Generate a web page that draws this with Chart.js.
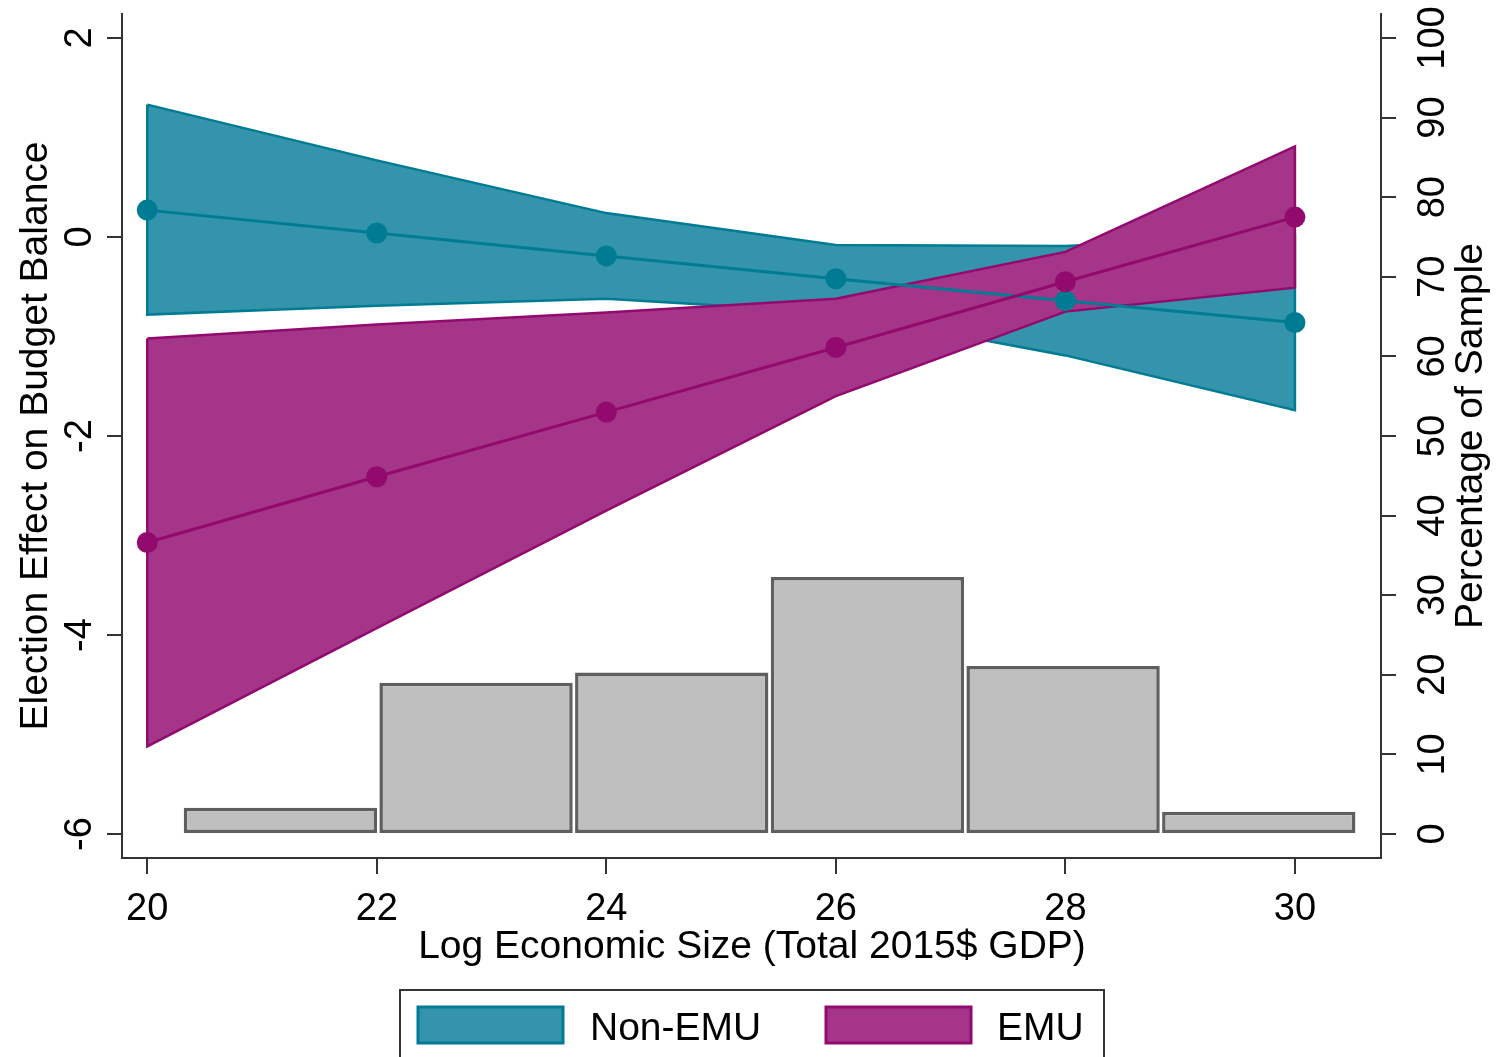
<!DOCTYPE html>
<html>
<head>
<meta charset="utf-8">
<script src="https://cdn.jsdelivr.net/npm/chart.js@4.4.1/dist/chart.umd.min.js"></script>
<style>
  html, body { margin: 0; padding: 0; background: #fff; }
  canvas { display: block; }
</style>
</head>
<body>
<canvas id="chart" width="1507" height="1057"></canvas>
<script>
// log economic size grid
const gdp = [20, 22, 24, 26, 28, 30]

// Non-EMU marginal effect and 95% CI
const nonEmuEst = [0.27, 0.04, -0.19, -0.42, -0.64, -0.86]
const nonEmuHi = [1.33, 0.77, 0.24, -0.08, -0.09, 0.02]
const nonEmuLo = [-0.78, -0.69, -0.62, -0.76, -1.19, -1.74]

// EMU marginal effect and 95% CI
const emuEst = [-3.07, -2.41, -1.76, -1.11, -0.45, 0.20]
const emuHi = [-1.02, -0.88, -0.76, -0.62, -0.15, 0.91]
const emuLo = [-5.12, -3.93, -2.75, -1.60, -0.75, -0.51]

// histogram of the sample (percent)
const binMid = [21.16, 22.865, 24.57, 26.275, 27.98, 29.685]
const binPct = [3.3, 19.0, 20.3, 32.3, 21.1, 2.8]

const xTicks = [20, 22, 24, 26, 28, 30]
const yTicks = [-6, -4, -2, 0, 2]
const y2Ticks = [0, 10, 20, 30, 40, 50, 60, 70, 80, 90, 100]

const teal = '#3394ac', tealLine = '#007b94'
const plum = '#a53588', plumLine = '#930a6e'
const axisColor = '#333'
const font = "'Liberation Sans', Arial, sans-serif"

const pts = (xs, ys) => xs.map((x, i) => ({ x, y: ys[i] }))
// closed outline: upper edge, then lower edge back, then back to start
const band = (hi, lo) => pts(gdp, hi).concat(pts(gdp, lo).reverse(), [{ x: gdp[0], y: hi[0] }])

const setTicks = (list) => (scale) => { scale.ticks = list.map(v => ({ value: v })) }

const textPlugin = {
    id: 'texts',
    afterDraw(chart) {
        const { ctx } = chart
        const { x, y, y2 } = chart.scales
        ctx.save()
        ctx.fillStyle = '#000'
        ctx.textAlign = 'center'
        ctx.textBaseline = 'alphabetic'

        ctx.font = `38px ${font}`
        xTicks.forEach(v => ctx.fillText(String(v), x.getPixelForValue(v), 920))

        const rotated = (txt, px, py) => {
            ctx.save()
            ctx.translate(px, py)
            ctx.rotate(-Math.PI / 2)
            ctx.fillText(txt, 0, 0)
            ctx.restore()
        }
        yTicks.forEach(v => rotated(String(v), 91, y.getPixelForValue(v)))
        y2Ticks.forEach(v => rotated(String(v), 1444, y2.getPixelForValue(v)))

        ctx.font = `39px ${font}`
        ctx.fillText('Log Economic Size (Total 2015$ GDP)', 752, 958)
        rotated('Election Effect on Budget Balance', 47, 436)
        rotated('Percentage of Sample', 1482, 436)

        // legend box (runs off the bottom edge)
        ctx.strokeStyle = axisColor
        ctx.lineWidth = 2
        ctx.strokeRect(400, 990, 704, 90)
        ctx.lineWidth = 3
        ctx.fillStyle = teal
        ctx.strokeStyle = tealLine
        ctx.fillRect(418, 1007, 145, 36)
        ctx.strokeRect(418, 1007, 145, 36)
        ctx.fillStyle = plum
        ctx.strokeStyle = plumLine
        ctx.fillRect(826, 1007, 145, 36)
        ctx.strokeRect(826, 1007, 145, 36)
        ctx.fillStyle = '#000'
        ctx.textAlign = 'left'
        ctx.font = `39px ${font}`
        ctx.fillText('Non-EMU', 590, 1040)
        ctx.fillText('EMU', 997, 1040)
        ctx.restore()
    }
}

new Chart(document.getElementById('chart'), {
    type: 'line',
    data: {
        datasets: [
            {
                label: 'EMU', data: pts(gdp, emuEst), order: 0,
                borderColor: plumLine, backgroundColor: plumLine, borderWidth: 3,
                pointRadius: 10.5, pointBorderWidth: 0, pointBackgroundColor: plumLine, fill: false
            },
            {
                label: 'Non-EMU', data: pts(gdp, nonEmuEst), order: 1,
                borderColor: tealLine, backgroundColor: tealLine, borderWidth: 3,
                pointRadius: 10.5, pointBorderWidth: 0, pointBackgroundColor: tealLine, fill: false
            },
            {
                label: 'EMU CI', data: band(emuHi, emuLo), order: 2,
                borderColor: plumLine, backgroundColor: plum, borderWidth: 2.5,
                pointRadius: 0, fill: 'shape'
            },
            {
                label: 'Non-EMU CI', data: band(nonEmuHi, nonEmuLo), order: 3,
                borderColor: tealLine, backgroundColor: teal, borderWidth: 2.5,
                pointRadius: 0, fill: 'shape'
            },
            {
                type: 'bar', label: 'Sample', data: pts(binMid, binPct), order: 4,
                yAxisID: 'y2', backgroundColor: '#bfbfbf', borderColor: '#5f5f5f',
                borderWidth: 3.5, borderSkipped: false,
                categoryPercentage: 1, barPercentage: 0.988
            }
        ]
    },
    options: {
        responsive: false,
        animation: false,
        events: [],
        layout: { padding: { top: 14, left: 0, right: 0, bottom: 0 } },
        plugins: { legend: { display: false }, tooltip: { enabled: false } },
        scales: {
            x: {
                type: 'linear', min: 19.78, max: 30.75, offset: false,
                afterBuildTicks: setTicks(xTicks),
                afterFit: (s) => { s.height = 199 },
                ticks: { display: false },
                grid: { drawOnChartArea: false, offset: false, tickLength: 16, color: axisColor, lineWidth: 2 },
                border: { color: axisColor, width: 2 }
            },
            y: {
                type: 'linear', position: 'left', min: -6.241, max: 2.241,
                afterBuildTicks: setTicks(yTicks),
                afterFit: (s) => { s.width = 122 },
                ticks: { display: false },
                grid: { drawOnChartArea: false, tickLength: 15, color: axisColor, lineWidth: 2 },
                border: { color: axisColor, width: 2 }
            },
            y2: {
                type: 'linear', position: 'right', min: -3.015, max: 103.015,
                afterBuildTicks: setTicks(y2Ticks),
                afterFit: (s) => { s.width = 126 },
                ticks: { display: false },
                grid: { drawOnChartArea: false, tickLength: 15, color: axisColor, lineWidth: 2 },
                border: { color: axisColor, width: 2 }
            }
        }
    },
    plugins: [textPlugin]
})
</script>
</body>
</html>
